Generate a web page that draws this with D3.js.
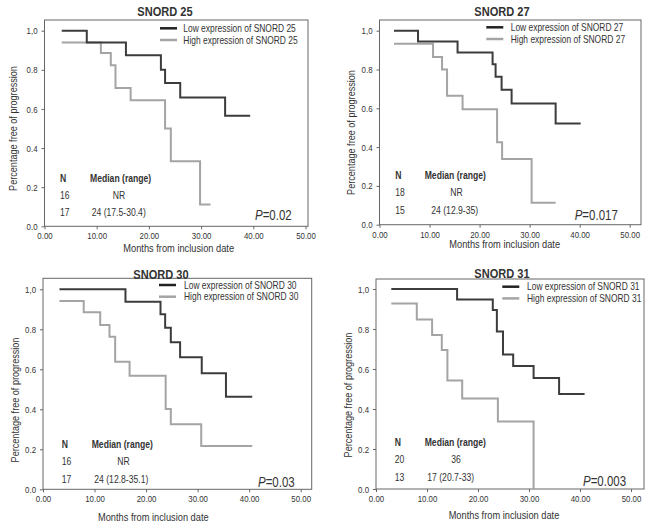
<!DOCTYPE html>
<html>
<head>
<meta charset="utf-8">
<script src="https://cdnjs.cloudflare.com/ajax/libs/d3/7.8.5/d3.min.js"></script>
<style>
  html, body { margin: 0; padding: 0; background: #fff; }
  svg { display: block; }
  text { font-family: 'Liberation Sans', Arial, sans-serif; fill: #333; }
</style>
</head>
<body>
<svg id="chart"></svg>
<script>
// values: [months, fraction free of progression]
var snord25Low  = [[3.3,1],[8.1,0.94],[15.6,0.875],[22.3,0.80],[23.1,0.733],[26.0,0.658],[34.6,0.565],[39.4,0.565]];
var snord25High = [[3.3,0.94],[10.8,0.886],[12.7,0.823],[13.6,0.707],[16.5,0.644],[23.1,0.5],[24.2,0.332],[29.8,0.112],[31.8,0.112]];
var snord27Low  = [[2.9,1],[7.7,0.944],[15.6,0.887],[22.6,0.827],[23.2,0.763],[24.4,0.695],[26.4,0.625],[35.2,0.522],[40.2,0.522]];
var snord27High = [[2.9,0.933],[10.7,0.865],[12.5,0.80],[13.5,0.665],[16.6,0.595],[23.5,0.425],[24.5,0.339],[30.4,0.113],[35.2,0.113]];
var snord30Low  = [[3.2,1],[16.0,0.938],[22.8,0.875],[23.7,0.808],[24.8,0.735],[26.6,0.66],[30.8,0.58],[35.5,0.463],[40.6,0.463]];
var snord30High = [[3.2,0.941],[7.9,0.885],[11.1,0.822],[12.9,0.763],[14.0,0.638],[16.8,0.568],[23.8,0.402],[24.8,0.325],[30.7,0.217],[40.6,0.217]];
var snord31Low  = [[3.0,1],[15.9,0.948],[22.9,0.895],[23.7,0.787],[24.9,0.672],[26.9,0.615],[30.9,0.555],[35.9,0.475],[40.9,0.475]];
var snord31High = [[3.0,0.927],[8.0,0.847],[11.0,0.77],[12.9,0.695],[14.0,0.542],[16.9,0.452],[23.9,0.338],[30.9,0]];

var titles     = ["SNORD 25", "SNORD 27", "SNORD 30", "SNORD 31"];
var lowSeries  = [snord25Low, snord27Low, snord30Low, snord31Low];
var highSeries = [snord25High, snord27High, snord30High, snord31High];
var nLow       = ["16", "18", "16", "20"];
var nHigh      = ["17", "15", "17", "13"];
var medianLow  = ["NR", "NR", "NR", "36"];
var medianHigh = ["24 (17.5-30.4)", "24 (12.9-35)", "24 (12.8-35.1)", "17 (20.7-33)"];
var pValues    = ["=0.02", "=0.017", "=0.03", "=0.003"];

var xTicks = [0, 10, 20, 30, 40, 50];
var yTicks = [0, 0.2, 0.4, 0.6, 0.8, 1.0];
var yTickLabels = ["0.0", "0.2", "0.4", "0.6", "0.8", "1,0"];

// where each panel sits on the page
var layout = [
  {x0: 44.5, x50: 305.5, right: 308, top: 20, y0: 226.3, y1: 30.7,
   title: [165, 15.5], legX: 160, legY: 28.3, legText: 183.3, xlab: [178.7, 251.7], ylab: [17, 128.5],
   tab: {n: 60, med: 90, nr: 112.7, rng: 91.7, y: 181.7}, p: [255, 220]},
  {x0: 379.5, x50: 629.7, right: 641, top: 20, y0: 224.7, y1: 30.7,
   title: [502, 15.5], legX: 486.3, legY: 27.3, legText: 510.7, xlab: [504.7, 248.3], ylab: [355, 132.5],
   tab: {n: 395.3, med: 424.7, nr: 450.3, rng: 431.3, y: 179.3}, p: [574.7, 220]},
  {x0: 43, x50: 300.7, right: 311.7, top: 278.3, y0: 489.3, y1: 289.3,
   title: [161, 278.8], legX: 159, legY: 285, legText: 184, xlab: [153.3, 521], ylab: [19, 400],
   tab: {n: 61.7, med: 91.7, nr: 117.3, rng: 94.3, y: 448.3}, p: [258, 486.7]},
  {x0: 376, x50: 631, right: 644, top: 279, y0: 489, y1: 289,
   title: [502, 277.8], legX: 502.3, legY: 286.7, legText: 527, xlab: [504, 519.3], ylab: [352, 395],
   tab: {n: 394.7, med: 424.7, nr: 451.3, rng: 427.3, y: 446}, p: [583, 486]}
];

var lowColor = "#3c3c3c";
var highColor = "#a4a4a4";
var narrow = 0.82;   // the figure uses a narrow face; squeeze Liberation Sans to match

// move x/y into a transform and squeeze horizontally
var squeeze = function(sel, extra) {
    sel.each(function() {
        var t = d3.select(this);
        var x = +t.attr("x") || 0;
        var y = +t.attr("y") || 0;
        t.attr("x", 0).attr("y", 0)
         .attr("transform", "translate(" + x + "," + y + ")" + (extra || "") + " scale(" + narrow + ",1)");
    });
};

var svg = d3.select("#chart")
    .attr("width", 647)
    .attr("height", 525);

svg.append("rect")
    .attr("width", 647)
    .attr("height", 525)
    .attr("fill", "#fff");

titles.forEach(function(title, i) {
    var L = layout[i];
    var g = svg.append("g");

    var xScale = d3.scaleLinear()
        .domain([0, 50])
        .range([L.x0, L.x50]);

    var yScale = d3.scaleLinear()
        .domain([0, 1])
        .range([L.y0, L.y1]);

    // box round the plot
    g.append("rect")
        .attr("x", L.x0)
        .attr("y", L.top)
        .attr("width", L.right - L.x0)
        .attr("height", L.y0 - L.top)
        .attr("fill", "none")
        .attr("stroke", "#666")
        .attr("stroke-width", 1);

    var xAxis = g.append("g")
        .attr("transform", "translate(0," + L.y0 + ")")
        .call(d3.axisBottom(xScale)
            .tickValues(xTicks)
            .tickFormat(d3.format(".2f"))
            .tickSize(3)
            .tickPadding(3));

    var yAxis = g.append("g")
        .attr("transform", "translate(" + L.x0 + ",0)")
        .call(d3.axisLeft(yScale)
            .tickValues(yTicks)
            .tickFormat(function(d, j) { return yTickLabels[j]; })
            .tickSize(3)
            .tickPadding(4));

    [xAxis, yAxis].forEach(function(ax) {
        ax.select(".domain").remove();
        ax.selectAll(".tick line").attr("stroke", "#666");
        var tt = ax.selectAll(".tick text")
            .style("font-size", "9.6px")
            .attr("fill", "#444");
        squeeze(tt);
    });

    var line = d3.line()
        .x(function(d) { return xScale(d[0]); })
        .y(function(d) { return yScale(d[1]); })
        .curve(d3.curveStepAfter);

    g.append("path")
        .datum(highSeries[i])
        .attr("d", line)
        .attr("fill", "none")
        .attr("stroke", highColor)
        .attr("stroke-width", 2);

    g.append("path")
        .datum(lowSeries[i])
        .attr("d", line)
        .attr("fill", "none")
        .attr("stroke", lowColor)
        .attr("stroke-width", 2);

    // title
    squeeze(g.append("text")
        .attr("x", L.title[0])
        .attr("y", L.title[1])
        .attr("text-anchor", "middle")
        .style("font-size", "13.5px")
        .style("font-weight", "bold")
        .attr("fill", "#222")
        .text(title));

    // legend
    var leg = [["Low expression of " + title, "#222"], ["High expression of " + title, highColor]];
    leg.forEach(function(item, k) {
        var ly = L.legY + k * 11.7;
        g.append("line")
            .attr("x1", L.legX)
            .attr("x2", L.legX + 17)
            .attr("y1", ly)
            .attr("y2", ly)
            .attr("stroke", item[1])
            .attr("stroke-width", 2.5);
        squeeze(g.append("text")
            .attr("x", L.legText)
            .attr("y", ly + 3.6)
            .style("font-size", "10.3px")
            .text(item[0]));
    });

    // axis titles
    squeeze(g.append("text")
        .attr("x", L.xlab[0])
        .attr("y", L.xlab[1])
        .attr("text-anchor", "middle")
        .style("font-size", "11.3px")
        .text("Months from inclusion date"));

    squeeze(g.append("text")
        .attr("x", L.ylab[0])
        .attr("y", L.ylab[1])
        .attr("text-anchor", "middle")
        .style("font-size", "11.1px")
        .text("Percentage free of progression"), " rotate(-90)");

    // N / median table
    var T = L.tab;
    var cells = [
        [T.n, T.y, "N", true],
        [T.med, T.y, "Median (range)", true],
        [T.n, T.y + 16.8, nLow[i], false],
        [T.nr, T.y + 16.8, medianLow[i], false],
        [T.n, T.y + 34.5, nHigh[i], false],
        [T.rng, T.y + 34.5, medianHigh[i], false]
    ];
    cells.forEach(function(c) {
        squeeze(g.append("text")
            .attr("x", c[0])
            .attr("y", c[1])
            .style("font-size", "10.5px")
            .style("font-weight", c[3] ? "bold" : "normal")
            .text(c[2]));
    });

    // p value
    var pt = g.append("text")
        .attr("x", L.p[0])
        .attr("y", L.p[1])
        .style("font-size", "14px")
        .attr("fill", "#333");
    pt.append("tspan").style("font-style", "italic").text("P");
    pt.append("tspan").text(pValues[i]);
    squeeze(pt);
});
</script>
</body>
</html>
